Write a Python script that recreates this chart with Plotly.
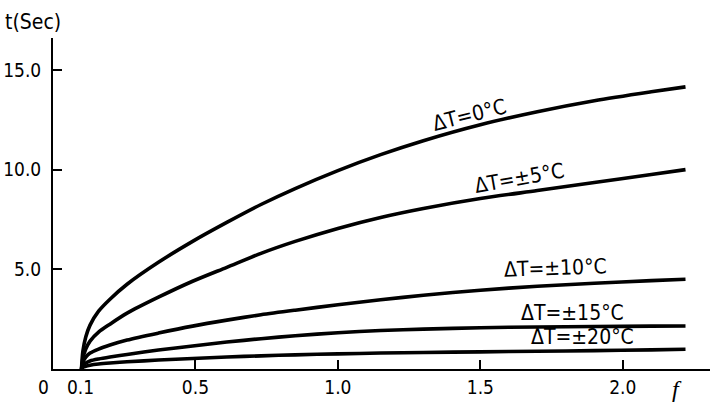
import plotly.graph_objects as go

# Flow factor f (x) and time t in seconds (y)
f_vals = [0.1, 0.105, 0.115, 0.13, 0.16, 0.2, 0.26, 0.37, 0.49, 0.61, 0.73, 0.85,
          1.0, 1.15, 1.3, 1.5, 1.7, 1.9, 2.1, 2.22]
t_dT0 = [0.0, 0.9, 1.6, 2.2, 2.9, 3.5, 4.25, 5.35, 6.4, 7.35, 8.25, 9.05,
         9.95, 10.75, 11.45, 12.25, 12.9, 13.45, 13.9, 14.15]
t_dT5 = [0.0, 0.55, 1.0, 1.4, 1.85, 2.25, 2.8, 3.6, 4.4, 5.1, 5.8, 6.4,
         7.05, 7.6, 8.05, 8.55, 8.95, 9.35, 9.75, 10.0]
t_dT10 = [0.0, 0.35, 0.6, 0.8, 1.0, 1.2, 1.45, 1.8, 2.15, 2.45, 2.72, 2.95,
          3.22, 3.47, 3.7, 3.95, 4.15, 4.3, 4.43, 4.5]
t_dT15 = [0.0, 0.2, 0.3, 0.4, 0.5, 0.6, 0.73, 0.95, 1.15, 1.35, 1.52, 1.67,
          1.82, 1.93, 2.0, 2.07, 2.11, 2.13, 2.15, 2.16]
t_dT20 = [0.0, 0.08, 0.14, 0.19, 0.25, 0.3, 0.36, 0.45, 0.53, 0.6, 0.66, 0.71,
          0.76, 0.8, 0.83, 0.86, 0.89, 0.92, 0.96, 0.99]

series_names = ["ΔT=0°C", "ΔT=±5°C", "ΔT=±10°C", "ΔT=±15°C", "ΔT=±20°C"]
series_vals = [t_dT0, t_dT5, t_dT10, t_dT15, t_dT20]

# label anchor positions (f, t) and rotation
label_f = [1.463, 1.639, 1.762, 1.825, 1.86]
label_t = [12.74, 9.58, 5.07, 2.81, 1.6]
label_rot = [-14, -10, -2, 0, 0]

x_tick_vals = [0.5, 1.0, 1.5, 2.0]
x_tick_text = ["0.5", "1.0", "1.5", "2.0"]
y_tick_vals = [5, 10, 15]
y_tick_text = ["5.0", "10.0", "15.0"]
extra_x_vals = [0.0, 0.1]
extra_x_text = ["0", "0.1"]

FONT = "Liberation Sans Narrow, DejaVu Sans Condensed, Arial Narrow, sans-serif"

fig = go.Figure()
for name, vals in zip(series_names, series_vals):
    fig.add_trace(go.Scatter(
        x=f_vals, y=vals, mode="lines", name=name,
        line=dict(color="black", width=3.6, shape="spline", smoothing=0.8),
        showlegend=False,
    ))

for name, fx, ty, rot in zip(series_names, label_f, label_t, label_rot):
    fig.add_annotation(x=fx, y=ty, text=name, showarrow=False, textangle=rot,
                       font=dict(family=FONT, size=21, color="black"))

for xv, txt in zip(extra_x_vals, extra_x_text):
    fig.add_annotation(x=xv, y=0, yref="paper", text=txt, showarrow=False,
                       yanchor="top", yshift=-5,
                       xshift=-10 if xv == 0 else -1,
                       font=dict(family=FONT, size=19, color="black"))

fig.add_annotation(x=0, y=1, xref="paper", yref="paper", text="t(Sec)",
                   showarrow=False, xanchor="left", yanchor="bottom",
                   xshift=-50, yshift=2,
                   font=dict(family=FONT, size=21, color="black"))
fig.add_annotation(x=2.19, y=0, yref="paper", text="<i>f</i>",
                   showarrow=False, yanchor="top", yshift=-5,
                   font=dict(family="Liberation Serif, serif", size=24, color="black"))

fig.update_layout(
    width=711, height=403,
    margin=dict(l=53, r=1, t=38, b=34),
    paper_bgcolor="white", plot_bgcolor="white",
    font=dict(family=FONT, size=19, color="black"),
    xaxis=dict(range=[0, 2.306], showgrid=False, zeroline=False,
               showline=True, linecolor="black", linewidth=2,
               ticks="inside", ticklen=9, tickwidth=1.5, tickcolor="black",
               tickvals=x_tick_vals, ticktext=x_tick_text,
               ticklabelstandoff=0),
    yaxis=dict(range=[0, 16.6], showgrid=False, zeroline=False,
               showline=True, linecolor="black", linewidth=2,
               ticks="inside", ticklen=9, tickwidth=1.5, tickcolor="black",
               tickvals=y_tick_vals, ticktext=y_tick_text,
               ticklabelstandoff=6),
)

fig.write_html("out.html",
               config={"displayModeBar": False},
               post_script="document.body.style.margin='0px';document.body.style.overflow='hidden';")
